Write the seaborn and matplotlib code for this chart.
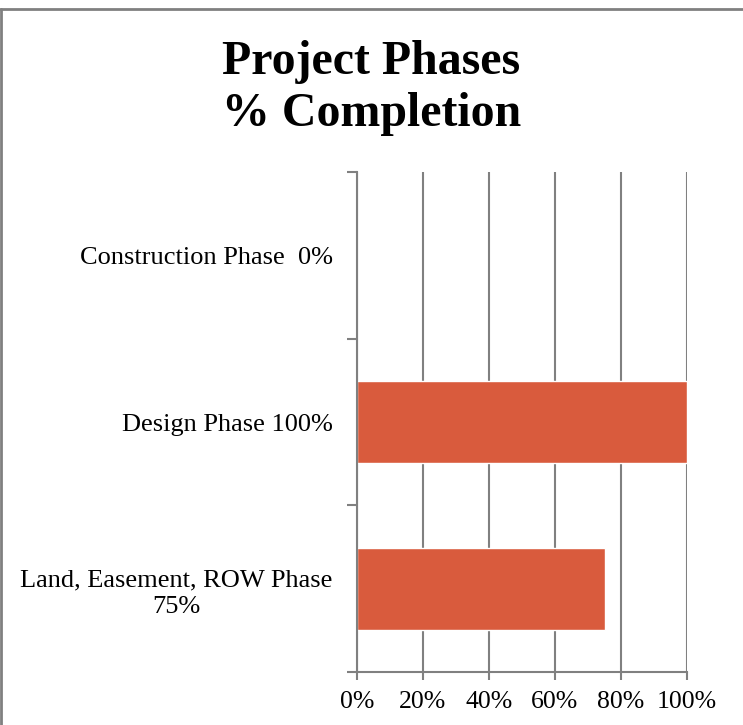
import matplotlib
matplotlib.use("Agg")
import matplotlib.pyplot as plt
import seaborn as sns
import pandas as pd
from matplotlib.ticker import PercentFormatter, FixedLocator
from matplotlib.lines import Line2D

phase_labels = ["Construction Phase  0%", "Design Phase 100%", "Land, Easement, ROW Phase\n75%"]
completion = [0, 100, 75]
x_ticks = [0, 20, 40, 60, 80, 100]

data = pd.DataFrame({"phase": phase_labels, "completion": completion})

sns.set_theme(style="white")
plt.rcParams['font.family'] = ['Liberation Serif', 'DejaVu Serif']
plt.rcParams['text.color'] = 'black'
plt.rcParams['xtick.color'] = 'black'
plt.rcParams['ytick.color'] = 'black'

W, H = 743, 725
fig = plt.figure(figsize=(W / 100, H / 100), dpi=100)
ax = fig.add_axes([357 / W, 1 - 672 / H, (687 - 357) / W, (672 - 172) / H])

sns.barplot(data=data, x="completion", y="phase", orient="h", color="#D95B3D",
            saturation=1, width=0.49, ax=ax)

ax.set_xlim(0, 100)
ax.set_ylim(2.5, -0.5)
ax.xaxis.set_major_locator(FixedLocator(x_ticks))
ax.xaxis.set_major_formatter(PercentFormatter(decimals=0))
ax.grid(axis="x", color="#808080", linewidth=1.5)
ax.set_axisbelow(True)
ax.set_xlabel("")
ax.set_ylabel("")

for s in ["top", "right"]:
    ax.spines[s].set_visible(False)
for s in ["left", "bottom"]:
    ax.spines[s].set_color("#808080")
    ax.spines[s].set_linewidth(1.5)

ax.tick_params(axis="x", which="major", length=6, width=1.5, color="#808080",
               labelcolor="black", direction="out", labelsize=18.5, pad=8, bottom=True)
ax.tick_params(axis="y", which="major", length=0, labelsize=19, labelcolor="black", pad=17.5)
ax.yaxis.set_minor_locator(FixedLocator([-0.5, 0.5, 1.5, 2.5]))
ax.tick_params(axis="y", which="minor", length=7, width=1.5, color="#808080",
               direction="out", left=True)
for lbl in ax.get_yticklabels():
    lbl.set_multialignment("center")
    lbl.set_linespacing(1.3)

fig.text(0.5, 1 - 88 / H, "Project Phases\n% Completion", ha="center", va="center",
         fontsize=34.5, fontweight="bold", linespacing=1.22, color="black")

# outer frame (top and left only visible)
fig.add_artist(Line2D([0, 1], [1 - 8.5 / H, 1 - 8.5 / H], transform=fig.transFigure,
                      color="#808080", linewidth=2))
fig.add_artist(Line2D([1 / W, 1 / W], [0, 1 - 8.5 / H], transform=fig.transFigure,
                      color="#808080", linewidth=2))

fig.savefig("out.png", dpi=100, facecolor="white")
